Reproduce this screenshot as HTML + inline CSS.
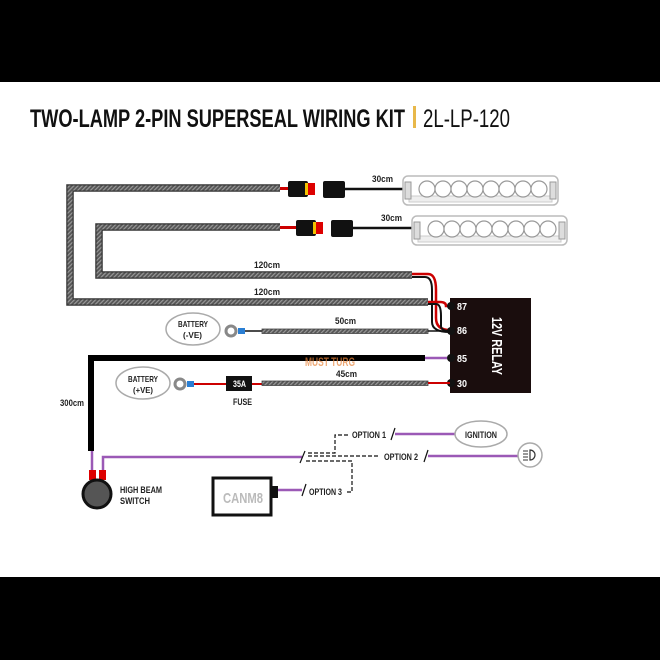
<!DOCTYPE html>
<html><head><meta charset="utf-8"><style>
html,body{margin:0;padding:0;background:#fff}
svg{display:block}
text{font-family:"Liberation Sans Narrow","Liberation Sans",sans-serif;font-weight:bold}
</style></head><body>
<svg width="660" height="660" viewBox="0 0 660 660" xmlns="http://www.w3.org/2000/svg" fill="#222">
<defs>
<pattern id="h" width="3" height="3" patternUnits="userSpaceOnUse" patternTransform="rotate(45)">
<rect width="3" height="3" fill="#555"/><rect width="1.2" height="3" fill="#999"/>
</pattern>
<g id="lamp">
<rect x="0" y="0" width="155" height="29" rx="5" fill="#fff" stroke="#bbb" stroke-width="1.5"/>
<rect x="6" y="20" width="143" height="6" fill="#eee" stroke="#ccc"/>
<g fill="#fff" stroke="#999" stroke-width="1.2">
<circle cx="24" cy="13" r="8"/><circle cx="40" cy="13" r="8"/><circle cx="56" cy="13" r="8"/><circle cx="72" cy="13" r="8"/><circle cx="88" cy="13" r="8"/><circle cx="104" cy="13" r="8"/><circle cx="120" cy="13" r="8"/><circle cx="136" cy="13" r="8"/>
</g>
<rect x="2" y="6" width="6" height="17" fill="#ddd" stroke="#999"/>
<rect x="147" y="6" width="6" height="17" fill="#ddd" stroke="#999"/>
</g>
</defs>
<rect x="0" y="0" width="660" height="82" fill="#000"/>
<rect x="0" y="577" width="660" height="83" fill="#000"/>

<text x="30" y="127" font-size="25" textLength="375" lengthAdjust="spacingAndGlyphs" fill="#111">TWO-LAMP 2-PIN SUPERSEAL WIRING KIT</text>
<rect x="413" y="106" width="3" height="22" fill="#e8b84a"/>
<text x="423" y="127" font-size="25" textLength="87" lengthAdjust="spacingAndGlyphs" style="font-weight:normal" fill="#111">2L-LP-120</text>

<path d="M280 188 H70 V302 H428" fill="none" stroke="#333" stroke-width="7.5"/>
<path d="M280 188 H70 V302 H428" fill="none" stroke="url(#h)" stroke-width="5"/>
<path d="M280 227 H99 V275 H412" fill="none" stroke="#333" stroke-width="7.5"/>
<path d="M280 227 H99 V275 H412" fill="none" stroke="url(#h)" stroke-width="5"/>

<path d="M412 274 H428 Q436 274 436 290 V318 Q436 330 450 330" fill="none" stroke="#c00" stroke-width="2.5"/>
<path d="M412 277 H425 Q432 277 432 290 V322 Q432 332 450 332" fill="none" stroke="#111" stroke-width="2"/>
<path d="M428 302 H440 Q446 302 446 306 H450" fill="none" stroke="#c00" stroke-width="2.5"/>
<path d="M428 304 H436 Q441 304 441 316 V326 Q441 331 450 331" fill="none" stroke="#111" stroke-width="2"/>

<rect x="280" y="187" width="8" height="3" fill="#c00"/>
<rect x="288" y="181" width="20" height="16" rx="2" fill="#111"/>
<rect x="305" y="183" width="6" height="12" fill="#f2c200"/>
<rect x="308" y="183" width="7" height="12" fill="#d00"/>
<rect x="323" y="181" width="22" height="17" rx="2" fill="#111"/>
<line x1="345" y1="189" x2="405" y2="189" stroke="#111" stroke-width="2.5"/>
<use href="#lamp" x="403" y="176"/>
<text x="372" y="182" font-size="9" textLength="21" lengthAdjust="spacingAndGlyphs">30cm</text>

<rect x="280" y="226" width="16" height="3" fill="#c00"/>
<rect x="296" y="220" width="20" height="16" rx="2" fill="#111"/>
<rect x="313" y="222" width="6" height="12" fill="#f2c200"/>
<rect x="316" y="222" width="7" height="12" fill="#d00"/>
<rect x="331" y="220" width="22" height="17" rx="2" fill="#111"/>
<line x1="353" y1="228" x2="414" y2="228" stroke="#111" stroke-width="2.5"/>
<use href="#lamp" x="412" y="216"/>
<text x="381" y="221" font-size="9" textLength="21" lengthAdjust="spacingAndGlyphs">30cm</text>

<text x="254" y="268" font-size="9" textLength="26" lengthAdjust="spacingAndGlyphs">120cm</text>
<text x="254" y="295" font-size="9" textLength="26" lengthAdjust="spacingAndGlyphs">120cm</text>

<rect x="450" y="298" width="81" height="95" fill="#1a0d0d"/>
<g fill="#111"><circle cx="451" cy="306" r="4"/><circle cx="451" cy="331" r="4"/><circle cx="451" cy="358" r="4"/><circle cx="451" cy="383" r="4"/></g>
<g font-size="10" fill="#fff"><text x="457" y="310" textLength="10" lengthAdjust="spacingAndGlyphs">87</text><text x="457" y="334" textLength="10" lengthAdjust="spacingAndGlyphs">86</text><text x="457" y="362" textLength="10" lengthAdjust="spacingAndGlyphs">85</text><text x="457" y="387" textLength="10" lengthAdjust="spacingAndGlyphs">30</text></g>
<text transform="translate(492,317) rotate(90)" font-size="15" fill="#fff" textLength="58" lengthAdjust="spacingAndGlyphs">12V RELAY</text>

<ellipse cx="193" cy="329" rx="27" ry="16" fill="#fff" stroke="#aaa" stroke-width="1.5"/>
<text x="178" y="327" font-size="8.5" textLength="30" lengthAdjust="spacingAndGlyphs">BATTERY</text>
<text x="183" y="338" font-size="8.5" textLength="19" lengthAdjust="spacingAndGlyphs">(-VE)</text>
<circle cx="231" cy="331" r="5" fill="none" stroke="#888" stroke-width="3"/>
<rect x="238" y="328" width="7" height="6" fill="#2a7fd4"/>
<line x1="245" y1="331" x2="262" y2="331" stroke="#111" stroke-width="1.5"/>
<rect x="262" y="329" width="166" height="4.5" fill="url(#h)" stroke="#444" stroke-width="0.8"/>
<line x1="428" y1="331" x2="450" y2="331" stroke="#111" stroke-width="1.5"/>
<text x="335" y="324" font-size="9" textLength="21" lengthAdjust="spacingAndGlyphs">50cm</text>

<path d="M425 358 H91 V451" fill="none" stroke="#000" stroke-width="6"/>
<line x1="425" y1="358" x2="447" y2="358" stroke="#9b59b6" stroke-width="2.5"/>
<text x="305" y="366" font-size="12" fill="#e8843a" opacity=".7" textLength="50" lengthAdjust="spacingAndGlyphs">MUST TURG</text>

<ellipse cx="143" cy="383" rx="27" ry="16" fill="#fff" stroke="#aaa" stroke-width="1.5"/>
<text x="128" y="382" font-size="8.5" textLength="30" lengthAdjust="spacingAndGlyphs">BATTERY</text>
<text x="133" y="393" font-size="8.5" textLength="20" lengthAdjust="spacingAndGlyphs">(+VE)</text>
<circle cx="180" cy="384" r="5" fill="none" stroke="#888" stroke-width="3"/>
<rect x="187" y="381" width="7" height="6" fill="#2a7fd4"/>
<line x1="194" y1="384" x2="226" y2="384" stroke="#c00" stroke-width="2"/>
<rect x="226" y="376" width="26" height="15" fill="#111"/>
<text x="233" y="387" font-size="9" fill="#fff" textLength="13" lengthAdjust="spacingAndGlyphs">35A</text>
<line x1="252" y1="384" x2="262" y2="384" stroke="#c00" stroke-width="2"/>
<rect x="262" y="381" width="166" height="4.5" fill="url(#h)" stroke="#444" stroke-width="0.8"/>
<line x1="428" y1="383" x2="450" y2="383" stroke="#c00" stroke-width="2"/>
<text x="233" y="405" font-size="9" textLength="19" lengthAdjust="spacingAndGlyphs">FUSE</text>
<text x="336" y="377" font-size="9" textLength="21" lengthAdjust="spacingAndGlyphs">45cm</text>
<text x="60" y="406" font-size="9" textLength="24" lengthAdjust="spacingAndGlyphs">300cm</text>

<line x1="92" y1="451" x2="92" y2="472" stroke="#9b59b6" stroke-width="2.5"/>
<path d="M103 472 V457 H302" fill="none" stroke="#9b59b6" stroke-width="2.5"/>
<rect x="89" y="470" width="7" height="10" fill="#d00"/>
<rect x="99" y="470" width="7" height="10" fill="#d00"/>
<circle cx="97" cy="494" r="14" fill="#555" stroke="#111" stroke-width="3"/>
<text x="120" y="493" font-size="9" textLength="42" lengthAdjust="spacingAndGlyphs">HIGH BEAM</text>
<text x="120" y="504" font-size="9" textLength="30" lengthAdjust="spacingAndGlyphs">SWITCH</text>

<rect x="213" y="478" width="58" height="37" fill="#fff" stroke="#111" stroke-width="3"/>
<text x="223" y="503" font-size="15" fill="#bbb" textLength="40" lengthAdjust="spacingAndGlyphs">CANM8</text>
<rect x="271" y="486" width="7" height="12" fill="#111"/>
<line x1="278" y1="490" x2="302" y2="490" stroke="#9b59b6" stroke-width="2.5"/>
<line x1="302" y1="496" x2="306" y2="484" stroke="#111" stroke-width="1.2"/>
<text x="309" y="495" font-size="9" textLength="33" lengthAdjust="spacingAndGlyphs">OPTION 3</text>

<g fill="none" stroke="#111" stroke-width="1.2" stroke-dasharray="4,2">
<path d="M308 453 H335 V435 H348"/>
<path d="M308 456 H380"/>
<path d="M306 461 H352 V492 H346"/>
</g>
<line x1="300" y1="463" x2="305" y2="451" stroke="#111" stroke-width="1.2"/>
<text x="352" y="438" font-size="9" textLength="34" lengthAdjust="spacingAndGlyphs">OPTION 1</text>
<line x1="391" y1="440" x2="395" y2="428" stroke="#111" stroke-width="1.2"/>
<line x1="395" y1="434" x2="455" y2="434" stroke="#9b59b6" stroke-width="2.5"/>
<ellipse cx="481" cy="434" rx="26" ry="13" fill="#fff" stroke="#aaa" stroke-width="1.5"/>
<text x="465" y="438" font-size="9" textLength="32" lengthAdjust="spacingAndGlyphs">IGNITION</text>

<text x="384" y="460" font-size="9" textLength="34" lengthAdjust="spacingAndGlyphs">OPTION 2</text>
<line x1="424" y1="462" x2="428" y2="450" stroke="#111" stroke-width="1.2"/>
<line x1="428" y1="456" x2="518" y2="456" stroke="#9b59b6" stroke-width="2.5"/>
<circle cx="530" cy="455" r="12" fill="#fff" stroke="#aaa" stroke-width="1.5"/>
<path d="M530 450 A5 5 0 0 1 530 460 Z" fill="none" stroke="#333" stroke-width="1.2"/>
<g stroke="#333" stroke-width="1"><line x1="523" y1="451" x2="528" y2="451"/><line x1="523" y1="454" x2="528" y2="454"/><line x1="523" y1="457" x2="528" y2="457"/><line x1="523" y1="460" x2="528" y2="460"/></g>
</svg>
</body></html>
